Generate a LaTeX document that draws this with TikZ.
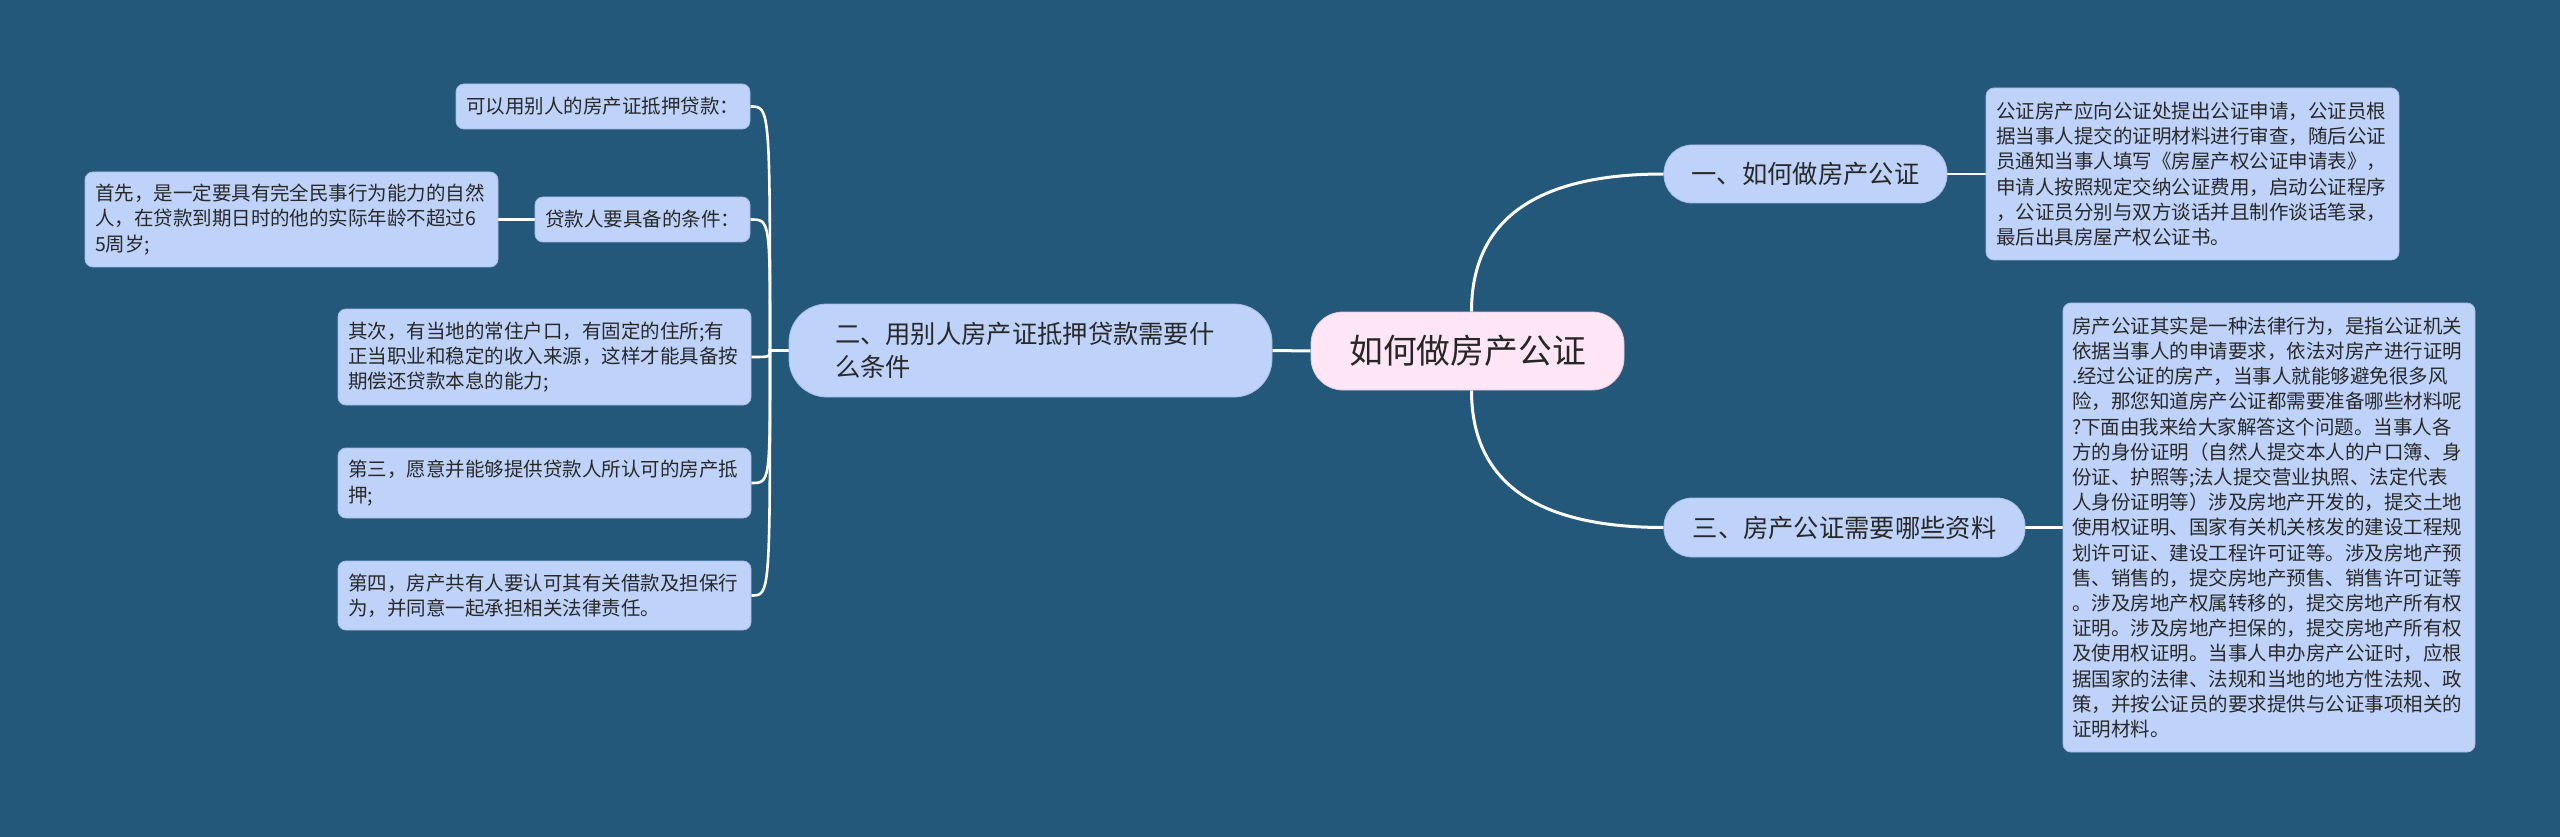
\documentclass[tikz,border=0pt]{standalone}
\usepackage{fontspec}
\newfontfamily\cjk{Noto Sans CJK SC}
\usetikzlibrary{calc}
\definecolor{bgblue}{RGB}{35,88,122}
\definecolor{nodeblue}{RGB}{191,211,250}
\definecolor{nodeedge}{RGB}{165,188,232}
\definecolor{rootpink}{RGB}{255,230,247}
\definecolor{rootedge}{RGB}{226,200,222}
\definecolor{txt}{RGB}{40,40,40}
\pgfdeclarelayer{bg}
\pgfdeclarelayer{edges}
\pgfsetlayers{bg,edges,main}
\tikzset{
  leaf/.style={rounded corners=8pt, fill=nodeblue, draw=nodeedge, line width=0.8pt,
    align=left, inner ysep=0pt, inner xsep=10pt, text=txt,
    font=\cjk\fontsize{19.5}{25.2}\selectfont},
  branch/.style={rounded corners=28pt, fill=nodeblue, draw=nodeedge, line width=0.8pt,
    align=center, inner sep=0pt, text=txt,
    font=\cjk\fontsize{25.3}{33}\selectfont},
  rootnode/.style={rounded corners=32pt, fill=rootpink, draw=rootedge, line width=0.8pt,
    align=center, inner sep=0pt, text=black!85,
    font=\cjk\fontsize{33.8}{40}\selectfont},
  mainline/.style={draw=white, line width=3pt},
  leafline/.style={draw=white, line width=2.6pt}
}
\begin{document}
\begin{tikzpicture}[x=1pt,y=-1pt]
\begin{pgfonlayer}{bg}
\fill[bgblue] (0,0) rectangle (2560,837);
\end{pgfonlayer}
\useasboundingbox (0,0) rectangle (2560,837);

% root and branches
\node[rootnode, minimum width=313pt, minimum height=78pt] (root) at (1467.5,351) {如何做房产公证};
\node[branch, minimum width=283pt, minimum height=58pt] (b1) at (1805.5,174) {一、如何做房产公证};
\node[branch, minimum width=361pt, minimum height=59pt] (b3) at (1844.5,527.5) {三、房产公证需要哪些资料};
\node[branch, rounded corners=38pt, align=left, text width=391pt, inner xsep=46pt, minimum height=93pt] (b2) at (1030.5,350.5)
  {二、用别人房产证抵押贷款需要什\\么条件};

% right leaves
\node[leaf, text width=393pt, minimum height=172pt] (r1) at (2192.5,174) {%
公证房产应向公证处提出公证申请，公证员根\\
据当事人提交的证明材料进行审查，随后公证\\
员通知当事人填写《房屋产权公证申请表》，\\
申请人按照规定交纳公证费用，启动公证程序\\
，公证员分别与双方谈话并且制作谈话笔录，\\
最后出具房屋产权公证书。};

\node[leaf, inner xsep=9pt, text width=394pt, minimum height=449pt] (r3) at (2269,527.5) {%
房产公证其实是一种法律行为，是指公证机关\\
依据当事人的申请要求，依法对房产进行证明\\
.经过公证的房产，当事人就能够避免很多风\\
险，那您知道房产公证都需要准备哪些材料呢\\
?下面由我来给大家解答这个问题。当事人各\\
方的身份证明（自然人提交本人的户口簿、身\\
份证、护照等;法人提交营业执照、法定代表\\
人身份证明等）涉及房地产开发的，提交土地\\
使用权证明、国家有关机关核发的建设工程规\\
划许可证、建设工程许可证等。涉及房地产预\\
售、销售的，提交房地产预售、销售许可证等\\
。涉及房地产权属转移的，提交房地产所有权\\
证明。涉及房地产担保的，提交房地产所有权\\
及使用权证明。当事人申办房产公证时，应根\\
据国家的法律、法规和当地的地方性法规、政\\
策，并按公证员的要求提供与公证事项相关的\\
证明材料。};

% left leaves
\node[leaf, text width=274pt, minimum height=45pt] (l1) at (603,106.5) {可以用别人的房产证抵押贷款：};
\node[leaf, text width=195pt, minimum height=45pt] (l2) at (642.5,219.5) {贷款人要具备的条件：};
\node[leaf, text width=393pt, minimum height=95pt] (l3) at (291.5,219.5) {%
首先，是一定要具有完全民事行为能力的自然\\
人，在贷款到期日时的他的实际年龄不超过6\\
5周岁;};
\node[leaf, text width=393pt, minimum height=96pt] (l4) at (544.5,357) {%
其次，有当地的常住户口，有固定的住所;有\\
正当职业和稳定的收入来源，这样才能具备按\\
期偿还贷款本息的能力;};
\node[leaf, text width=393pt, minimum height=70pt] (l5) at (544.5,483) {%
第三，愿意并能够提供贷款人所认可的房产抵\\
押;};
\node[leaf, text width=393pt, minimum height=69pt] (l6) at (544.5,595.5) {%
第四，房产共有人要认可其有关借款及担保行\\
为，并同意一起承担相关法律责任。};

\coordinate (trunk) at (770,0);

\begin{pgfonlayer}{edges}
% root to right branches (quadratic-like curves)
\draw[mainline] ([xshift=4pt]root.north) .. controls ($([xshift=4pt]root.north)!2/3!([xshift=4pt]root.north|-b1.west)$)
  and ($(b1.west)!2/3!([xshift=4pt]root.north|-b1.west)$) .. (b1.west);
\draw[mainline] ([xshift=4pt]root.south) .. controls ($([xshift=4pt]root.south)!2/3!([xshift=4pt]root.south|-b3.west)$)
  and ($(b3.west)!2/3!([xshift=4pt]root.south|-b3.west)$) .. (b3.west);
\draw[mainline] (root.west) -- (b2.east);
\draw[leafline] (b1.east) -- (r1.west);
\draw[leafline] (b3.east) -- (r3.west);
% left tree: short run to the trunk, then a curve hooking into each leaf
\foreach \n in {l1,l2,l4,l5,l6}{
  \draw[leafline] (b2.west) -- (trunk|-b2.west) .. controls (trunk|-\n.east) .. (\n.east);
}
\draw[leafline] (l2.west) -- (l3.east);
\end{pgfonlayer}
\end{tikzpicture}
\end{document}
